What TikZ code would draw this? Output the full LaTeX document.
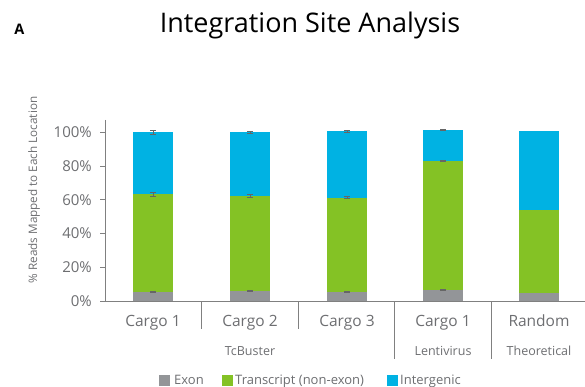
\documentclass[tikz,border=0pt]{standalone}
\usepackage{fontspec}
\setmainfont{Open Sans}
\definecolor{exonc}{HTML}{939598}
\definecolor{transc}{HTML}{84C225}
\definecolor{interc}{HTML}{00B2E3}
\definecolor{txt}{HTML}{6D6E71}
\definecolor{axisc}{HTML}{808080}
\begin{document}
\begin{tikzpicture}[x=1pt,y=-1pt,
  axisline/.style={draw=axisc,line width=0.9pt},
  ticklab/.style={anchor=east,text=txt,font=\fontsize{15}{15}\selectfont,inner sep=0},
  catlab/.style={anchor=base,text=txt,font=\fontsize{15.5}{15}\selectfont,inner sep=0},
  grplab/.style={anchor=base,text=txt,font=\fontsize{12.5}{12}\selectfont,inner sep=0},
  leglab/.style={anchor=base west,text=txt,font=\fontsize{13}{13}\selectfont,inner sep=0},
  errbar/.style={draw=black!60,line width=0.8pt},
]
\useasboundingbox (0,0) rectangle (585,387);
% title
\node[anchor=base,font=\fontsize{27}{27}\selectfont,inner sep=0] (title) at (310,32.3) {Integration Site Analysis};
\node[anchor=base,font=\bfseries\fontsize{14.5}{14}\selectfont,inner sep=0] (A) at (19.5,35) {A};
% y-axis label
\node[rotate=90,text=txt,font=\fontsize{11.7}{11}\selectfont,inner sep=0] (ylab) at (34,190) {\% Reads Mapped to Each Location};
% bars: value to y: y = 301 - 1.687*v
\newcommand{\yv}[1]{301-1.687*#1}
\foreach \cx/\e/\t/\i [count=\k] in {153/5.3/63.4/100, 250/5.7/62.2/100, 347/5.5/61.2/100.7, 443/6.7/83/101.2, 539/4.7/54.1/100.8}{
  \fill[exonc] (\cx-20,301) rectangle (\cx+20,{\yv{\e}});
  \fill[transc] (\cx-20,{\yv{\e}}) rectangle (\cx+20,{\yv{\t}});
  \fill[interc] (\cx-20,{\yv{\t}}) rectangle (\cx+20,{\yv{\i}});
}
% error bars
\foreach \cx/\v/\d in {153/5.3/0.3,153/63.4/1.2,153/100/1.0,
                       250/5.7/0.3,250/62.2/1.0,250/100/0.5,
                       347/5.5/0.3,347/61.2/0.6,347/100.7/0.5,
                       443/6.7/0.3,443/83/0.4,443/101.2/0.3}{
  \draw[errbar] (\cx,{\yv{\v}-1.687*\d}) -- (\cx,{\yv{\v}+1.687*\d});
  \draw[errbar] (\cx-3,{\yv{\v}-1.687*\d}) -- (\cx+3,{\yv{\v}-1.687*\d});
  \draw[errbar] (\cx-3,{\yv{\v}+1.687*\d}) -- (\cx+3,{\yv{\v}+1.687*\d});
}
% axes
\coordinate (o) at (105,301);
\coordinate (ytop) at (105,120);
\coordinate (xend) at (585,301);
\draw[axisline] (ytop) -- (o) -- (xend);
\foreach \v/\lab in {0/0\%,20/20\%,40/40\%,60/60\%,80/80\%,100/100\%}{
  \draw[axisline] (100,{\yv{\v}}) -- (105,{\yv{\v}});
  \node[ticklab] at (92,{\yv{\v}}) {\lab};
}
% category dividers
\foreach \x in {201.7,298.3}{\draw[axisline] (\x,301) -- (\x,329);}
\foreach \x in {394,491}{\draw[axisline] (\x,301) -- (\x,359);}
% category labels
\node[catlab] (c1) at (153,326) {Cargo 1};
\node[catlab] (c2) at (250,326) {Cargo 2};
\node[catlab] (c3) at (347,326) {Cargo 3};
\node[catlab] (c4) at (443,326) {Cargo 1};
\node[catlab] (c5) at (539,326) {Random};
\node[grplab] (g1) at (250,355) {TcBuster};
\node[grplab] (g2) at (443,355) {Lentivirus};
\node[grplab] (g3) at (539,355) {Theoretical};
% legend
\fill[exonc] (159,375) rectangle (170,386);
\node[leglab] (l1) at (174,384.3) {Exon};
\fill[transc] (221.7,375) rectangle (232.7,386);
\node[leglab] (l2) at (235,384.3) {Transcript (non-exon)};
\fill[interc] (386.7,375) rectangle (397.7,386);
\node[leglab] (l3) at (400,384.3) {Intergenic};
\end{tikzpicture}
\end{document}
